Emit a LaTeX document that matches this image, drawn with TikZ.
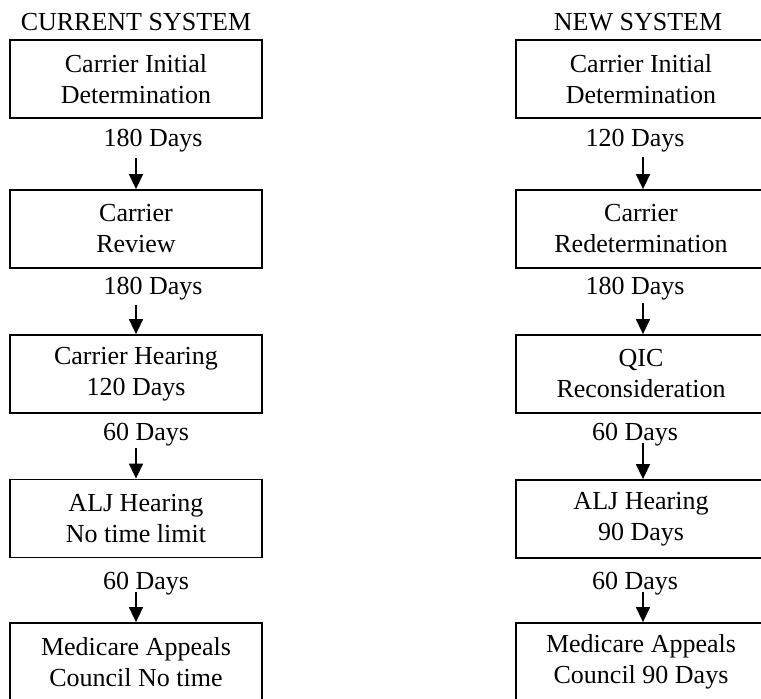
\documentclass[tikz,border=0pt]{standalone}
\usepackage{fontspec}
\setmainfont{Liberation Serif}
\usetikzlibrary{arrows.meta}
\begin{document}
\begin{tikzpicture}[x=1pt,y=-1pt,
  box/.style={draw, line width=1.8pt, minimum height=78pt, inner sep=0pt, align=center, font=\fontsize{26}{31}\selectfont},
  lbox/.style={box, minimum width=252pt},
  rbox/.style={box, minimum width=250pt},
  lbl/.style={inner sep=0pt, font=\fontsize{26}{31}\selectfont},
  arr/.style={line width=1.6pt, -{Triangle[width=14pt,length=15pt]}}]
\useasboundingbox (0,0) rectangle (761,699);
\clip (0,0) rectangle (761,699);
% titles
\node[lbl] (T1) at (136,22) {CURRENT SYSTEM};
\node[lbl] (T2) at (638,22) {NEW SYSTEM};
% left column
\node[lbox] (L1) at (136,79) {Carrier Initial\\Determination};
\node[lbox] (L2) at (136,229) {Carrier\\Review};
\node[lbox] (L3) at (136,374) {Carrier Hearing\\120 Days};
\node[lbox] (L4) at (136,518.5) {ALJ Hearing\\No time limit};
\node[lbox] (L5) at (136,662) {Medicare Appeals\\Council No time};
\node[lbl] (LD1) at (153,141) {180 Days};
\node[lbl] (LD2) at (153,289) {180 Days};
\node[lbl] (LD3) at (146,435) {60 Days};
\node[lbl] (LD4) at (146,584) {60 Days};
\coordinate (la1) at (136,158);
\coordinate (la2) at (136,305);
\coordinate (la3) at (136,448);
\coordinate (la4) at (136,592);
\draw[arr] (la1) -- (la1 |- L2.north);
\draw[arr] (la2) -- (la2 |- L3.north);
\draw[arr] (la3) -- (la3 |- L4.north);
\draw[arr] (la4) -- (la4 |- L5.north);
% right column
\node[rbox] (R1) at (641,79) {Carrier Initial\\Determination};
\node[rbox] (R2) at (641,229) {Carrier\\Redetermination};
\node[rbox] (R3) at (641,374) {QIC\\Reconsideration};
\node[rbox] (R4) at (641,519) {ALJ Hearing\\90 Days};
\node[rbox] (R5) at (641,662) {Medicare Appeals\\Council 90 Days};
\node[lbl] (RD1) at (635,141) {120 Days};
\node[lbl] (RD2) at (635,289) {180 Days};
\node[lbl] (RD3) at (635,435) {60 Days};
\node[lbl] (RD4) at (635,584) {60 Days};
\coordinate (ra1) at (643,157);
\coordinate (ra2) at (643,303);
\coordinate (ra3) at (643,443);
\coordinate (ra4) at (643,592);
\draw[arr] (ra1) -- (ra1 |- R2.north);
\draw[arr] (ra2) -- (ra2 |- R3.north);
\draw[arr] (ra3) -- (ra3 |- R4.north);
\draw[arr] (ra4) -- (ra4 |- R5.north);
\end{tikzpicture}
\end{document}
